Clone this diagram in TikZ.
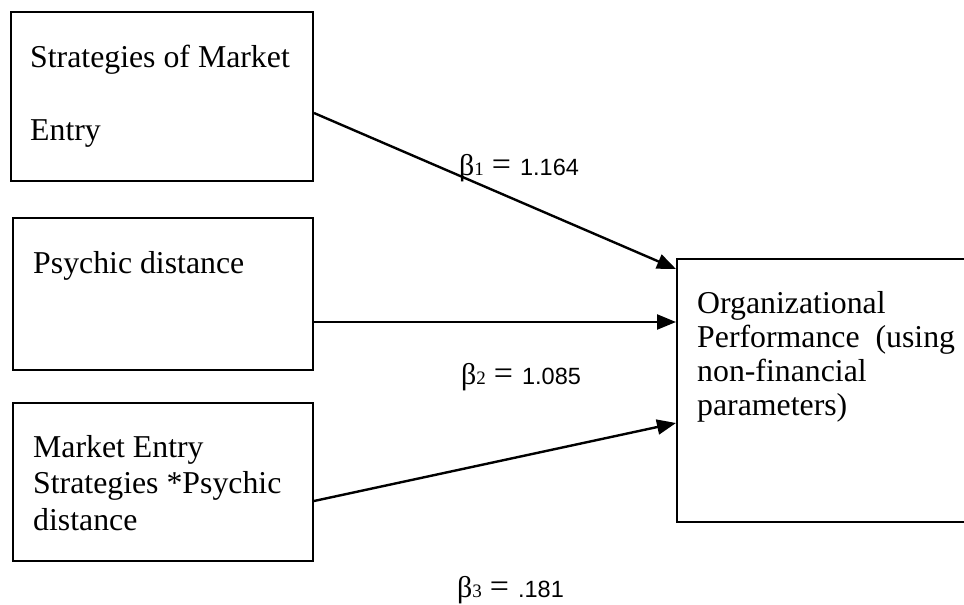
\documentclass[tikz,border=0pt]{standalone}
\usepackage{fontspec}
\setmainfont{Liberation Serif}
\newfontfamily\sansnum{Liberation Sans}
\usetikzlibrary{arrows.meta}

% pieces of a regression coefficient label
\newcommand{\cbeta}[1]{{\fontsize{30}{30}\selectfont β}{\fontsize{19}{19}\selectfont #1}}
\newcommand{\ceq}{\hspace{8pt}{\fontsize{34}{34}\selectfont =}\hspace{9pt}}
\newcommand{\cval}[1]{{\sansnum\fontsize{23.5}{23.5}\selectfont #1}}

\begin{document}
\begin{tikzpicture}[x=1pt,y=-1pt,
  box/.style={draw, line width=2pt, rectangle, inner sep=0pt, anchor=north west},
  boxtext/.style={anchor=base west, inner sep=0pt, font=\fontsize{31.8}{36}\selectfont},
  coef/.style={anchor=base west, inner sep=0pt},
  link/.style={line width=2.4pt, -{Triangle[length=19pt,width=15pt]}},
]
\useasboundingbox (0,0) rectangle (964,605);

% independent variables
\node[box, minimum width=302.5pt, minimum height=169pt] (entry) at (9.5,11) {};
\node[box, minimum width=300pt, minimum height=152pt] (psych) at (12,217) {};
\node[box, minimum width=300pt, minimum height=158pt] (inter) at (12,402) {};
% dependent variable
\node[box, minimum width=330pt, minimum height=263pt] (perf) at (676,258) {};

% box texts
\node[boxtext] (entryA) at (30,67) {Strategies of Market};
\node[boxtext] (entryB) at (30,140) {Entry};
\node[boxtext] (psychA) at (33,273) {Psychic distance};
\node[boxtext] (interA) at (33,457) {Market Entry};
\node[boxtext] (interB) at (33,493) {Strategies *Psychic};
\node[boxtext] (interC) at (33,530) {distance};
\node[boxtext] (perfA) at (697,313) {Organizational};
\node[boxtext] (perfB) at (697,347) {Performance\ \ (using};
\node[boxtext] (perfC) at (697,381) {non-financial};
\node[boxtext] (perfD) at (697,415) {parameters)};

% paths
\draw[link] ([yshift=-16.5pt]entry.east) -- ([yshift=121.5pt]perf.west);
\draw[link] ([yshift=-28pt]psych.east) -- ([yshift=68.5pt]perf.west);
\draw[link] ([yshift=-19pt]inter.east) -- ([yshift=-32.5pt]perf.west);

% coefficients
\node[coef] (b1) at (459,175) {\cbeta{1}\ceq\cval{1.164}};
\node[coef] (b2) at (461,384) {\cbeta{2}\ceq\cval{1.085}};
\node[coef] (b3) at (457,597) {\cbeta{3}\ceq\cval{.181}};
\end{tikzpicture}
\end{document}
